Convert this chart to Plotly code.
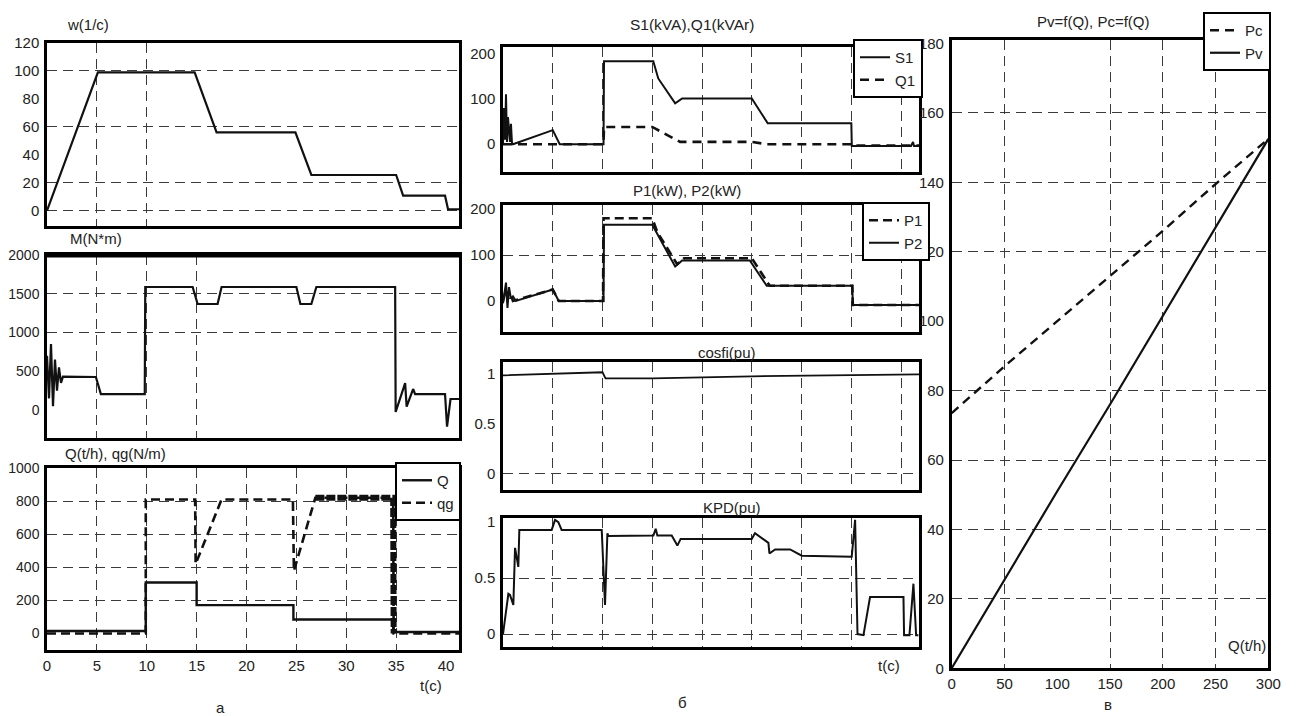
import plotly.graph_objects as go

W, H = 1303, 716
OFF = 8  # the page body adds an 8px margin; positions below are in screen pixels

# ---------------- data ----------------
# panel a: time in seconds
w_t = [0, 5.1, 14.8, 17.0, 24.9, 26.5, 35.0, 35.7, 39.9, 40.2, 41.3]
w_val = [0, 99, 99, 56, 56, 25.5, 25.5, 10.7, 10.7, 1, 1]

M_t = [0, 0.2, 0.4, 0.6, 0.8, 1.0, 1.2, 1.4, 1.6, 4.9, 5.4, 9.8, 9.85, 14.6, 15.1,
       17.1, 17.5, 25.0, 25.4, 26.5, 27.0, 34.9, 34.95, 35.9, 36.05, 36.7, 36.9,
       39.9, 40.1, 40.45, 41.3]
M_val = [700, 150, 850, 50, 650, 250, 550, 350, 430, 426, 206, 206, 1587, 1587, 1368,
         1368, 1587, 1587, 1368, 1368, 1587, 1587, -26, 348, 43, 271, 206,
         206, -215, 142, 142]

Q_t = [0, 9.9, 9.9, 15.0, 15.0, 24.7, 24.7, 34.7, 34.7, 41.3]
Q_val = [15, 15, 308, 308, 171, 171, 84, 84, 9, 9]

qg_t = [0, 9.9, 9.9, 14.85, 14.9, 17.5, 24.65, 24.75, 26.9, 34.7, 34.75, 41.3]
qg_val = [0, 0, 810, 810, 420, 810, 810, 379, 820, 820, 0, 0]

# panel b
S1_t = [0, 0.1, 0.2, 0.3, 0.4, 0.5, 0.7, 0.8, 0.9, 1.0, 5.0, 5.7, 10.1, 10.15, 15.1,
        15.6, 17.3, 18.0, 25.0, 26.6, 35.0, 35.05, 41.0, 41.2, 41.3, 41.8]
S1_val = [0, 80, 10, 110, 5, 60, 5, 45, 3, 0, 31, 0, 0, 183, 183,
          145, 90, 101, 101, 46, 46, -4, -4, 5, -4, -4]

Q1_t = [0, 10.1, 10.15, 15.0, 17.8, 25.0, 26.5, 35.0, 35.05, 41.8]
Q1_val = [0, 0, 38, 38, 5, 5, 0, 0, -3, -3]

P1_t = [0, 0.3, 0.5, 0.8, 1.0, 5.0, 5.6, 10.05, 10.1, 15.0, 15.5, 17.5, 18.2, 25.0,
        26.8, 35.1, 35.15, 41.8]
P1_val = [0, 25, 5, 12, 0, 25, 0, 0, 180, 180, 150, 80, 93, 93,
          33, 33, -9, -9]

P2_t = [0, 0.3, 0.45, 0.6, 0.8, 1.0, 1.3, 5.0, 5.6, 10.1, 10.15, 15.0, 17.3, 18.0,
        24.8, 26.5, 35.1, 35.15, 41.8]
P2_val = [-5, 40, -15, 30, 5, 10, 0, 25, 0, 0, 166, 166, 75, 88,
          88, 33, 33, -9, -9]

cos_t = [0, 10.0, 10.3, 15.0, 25.0, 35.0, 41.8]
cos_val = [0.98, 1.01, 0.95, 0.95, 0.97, 0.985, 0.99]

kpd_t = [0, 0.54, 0.70, 1.04, 1.21, 1.38, 1.54, 1.64, 4.89, 5.23,
         5.56, 5.89, 9.92, 10.25, 10.49, 10.59, 15.11, 15.34, 15.51, 16.95,
         17.52, 17.85, 24.99, 25.32, 26.16, 26.67, 26.77, 27.34, 28.85, 30.02,
         35.04, 35.38, 35.62, 36.22, 36.88, 40.24, 40.30, 40.84, 41.24, 41.51, 41.74]
kpd_val = [0, 0.36, 0.35, 0.26, 0.77, 0.69, 0.60, 0.93, 0.93, 1.02,
           1.0, 0.93, 0.93, 0.26, 0.90, 0.875, 0.88, 0.94, 0.88, 0.88,
           0.79, 0.85, 0.85, 0.90, 0.845, 0.815, 0.72, 0.756, 0.756, 0.70,
           0.69, 1.02, 0.0, -0.01, 0.33, 0.33, -0.01, -0.01, 0.45, -0.01, -0.01]

# panel c
Qc = [0, 50, 100, 150, 200, 250, 300]
Pv = [0, 25.5, 51, 76, 101.5, 127, 152.5]
Pc = [73.5, 87, 100, 113, 126, 139.5, 152.5]

# tick labels / grid positions
a_x_labels = [0, 5, 10, 15, 20, 25, 30, 35, 40]
b_x_grid = [5, 10, 15, 20, 25, 30, 35, 40]
c_x_labels = [0, 50, 100, 150, 200, 250, 300]
c_y_labels = [0, 20, 40, 60, 80, 100, 120, 140, 160, 180]

# ---------------- figure ----------------
FONT = "Liberation Sans, Arial, sans-serif"
INK = "#111111"
TXT = "#222222"


def px(x):
    return (x - OFF) / W


def py(y):
    return 1 - (y - OFF) / H


fig = go.Figure()


def add_line(t, v, ax, width=2.0, dash="solid", name=None, legend=None, show=False):
    xa = "x" if ax == 1 else f"x{ax}"
    ya = "y" if ax == 1 else f"y{ax}"
    fig.add_trace(go.Scatter(
        x=t, y=v, xaxis=xa, yaxis=ya, mode="lines",
        line=dict(color=INK, width=width, dash=dash),
        name=name, legend=legend, showlegend=show, hoverinfo="skip"))


# panel a
add_line(w_t, w_val, 1, 2.2)
add_line(M_t, M_val, 2, 2.2)
add_line(qg_t, qg_val, 3, 2.6, "9px,5px", "qg", "legend", True)
add_line(qg_t[8:11], qg_val[8:11], 3, 6, "9px,2px")
add_line(Q_t, Q_val, 3, 2.4, "solid", "Q", "legend", True)

# panel b
add_line(S1_t, S1_val, 4, 2.0, "solid", "S1", "legend2", True)
add_line(Q1_t, Q1_val, 4, 2.6, "9px,6px", "Q1", "legend2", True)
add_line(P1_t, P1_val, 5, 2.6, "9px,5px", "P1", "legend3", True)
add_line(P2_t, P2_val, 5, 2.0, "solid", "P2", "legend3", True)
add_line(cos_t, cos_val, 6, 1.8)
add_line(kpd_t, kpd_val, 7, 2.0)

# panel c
add_line(Qc, Pc, 8, 2.4, "9px,6px", "Pc", "legend4", True)
add_line(Qc, Pv, 8, 2.2, "solid", "Pv", "legend4", True)

GRID = dict(gridcolor="#3a3a3a", gridwidth=1, griddash="10px,6px")


def axis(dom_px, rng, anchor, labels, grid, vertical=False, fsize=15):
    if vertical:
        dom = [py(dom_px[1]), py(dom_px[0])]
    else:
        dom = [px(dom_px[0]), px(dom_px[1])]
    return dict(
        domain=dom, range=rng, anchor=anchor, automargin=False,
        showline=True, mirror=True, linecolor="black", linewidth=2.5,
        zeroline=False, ticks="", fixedrange=True,
        tickmode="array", tickvals=labels, showticklabels=len(labels) > 0,
        showgrid=False,
        minor=dict(tickmode="array", tickvals=grid, showgrid=True, ticks="", **GRID),
        tickfont=dict(size=fsize, color=TXT, family=FONT),
    )


A_X = [47, 459]
B_X = [503, 919]
lay = {}
# a1
lay["xaxis"] = axis(A_X, [0, 41.3], "y", [], [5, 10])
lay["yaxis"] = axis([43, 226], [-11, 120], "x", [0, 20, 40, 60, 80, 100, 120], [0, 20, 60, 100], True)
# a2
lay["xaxis2"] = axis(A_X, [0, 41.3], "y2", [], [5, 10, 15])
lay["yaxis2"] = axis([255, 438], [-361, 2000], "x2", [0, 500, 1000, 1500, 2000], [1000, 1500], True, 14)
# a3
lay["xaxis3"] = axis(A_X, [0, 41.3], "y3", a_x_labels, [5, 10, 15, 20, 25, 30, 35])
lay["yaxis3"] = axis([468, 650], [-100, 1000], "x3", [0, 200, 400, 600, 800, 1000], [200, 400, 600, 800], True, 14)
# b1
lay["xaxis4"] = axis(B_X, [0, 41.8], "y4", [], b_x_grid)
lay["yaxis4"] = axis([46.7, 172.3], [-62, 215], "x4", [0, 100, 200], [], True)
# b2
lay["xaxis5"] = axis(B_X, [0, 41.8], "y5", [], b_x_grid)
lay["yaxis5"] = axis([205, 331.7], [-67, 209], "x5", [0, 100, 200], [100], True)
# b3
lay["xaxis6"] = axis(B_X, [0, 41.8], "y6", [], b_x_grid)
lay["yaxis6"] = axis([361.7, 490], [-0.16, 1.115], "x6", [0, 0.5, 1], [0], True)
# b4
lay["xaxis7"] = axis(B_X, [0, 41.8], "y7", [], b_x_grid[:-1])
lay["yaxis7"] = axis([518.3, 646.7], [-0.113, 1.034], "x7", [0, 0.5, 1], [0, 0.5], True)
# c
lay["xaxis8"] = axis([951.7, 1268.3], [0, 300], "y8", c_x_labels, [50, 150, 200, 250])
lay["yaxis8"] = axis([40, 668.3], [0, 181], "x8", c_y_labels, [20, 40, 60, 80, 120, 140, 160], True)

for k in list(lay):
    if k.startswith("yaxis"):
        lay[k]["ticklabelstandoff"] = 2


def legend_box(right, top):
    return dict(x=px(right), y=py(top), xanchor="right", yanchor="top",
                bordercolor="black", borderwidth=2, bgcolor="white",
                font=dict(size=15, color=TXT, family=FONT),
                tracegroupgap=0, itemwidth=30, traceorder="normal")


lay["legend"] = legend_box(461, 462)
lay["legend"]["traceorder"] = "reversed"
lay["legend2"] = legend_box(923, 39)
lay["legend3"] = legend_box(930, 202)
lay["legend4"] = legend_box(1271, 12)

fig.update_layout(
    width=W, height=H, autosize=False,
    margin=dict(l=0, r=0, t=0, b=0),
    paper_bgcolor="white", plot_bgcolor="white",
    font=dict(family=FONT, color=TXT, size=15),
    **lay,
)

# thick top border of the M panel
fig.add_shape(type="line", xref="x2 domain", yref="y2 domain", x0=0, x1=1, y0=1, y1=1,
              line=dict(color="black", width=5))


def txt(s, x, y, size=15):
    fig.add_annotation(text=s, x=px(x), y=py(y), xref="paper", yref="paper",
                       showarrow=False, xanchor="center", yanchor="middle",
                       font=dict(size=size, color=TXT, family=FONT))


txt("w(1/c)", 88, 25)
txt("M(N*m)", 96, 239)
txt("Q(t/h), qg(N/m)", 116, 453)
txt("t(c)", 431, 685)
txt("а", 220, 707)
txt("S1(kVA),Q1(kVAr)", 692, 25, 15.5)
txt("P1(kW), P2(kW)", 687, 190)
txt("cosfi(pu)", 727, 352)
txt("KPD(pu)", 732, 507)
txt("t(c)", 889, 665)
txt("б", 682, 702)
txt("Pv=f(Q), Pc=f(Q)", 1093, 22)
txt("Q(t/h)", 1247, 645)
txt("в", 1108, 704)

fig.write_html("out.html")
